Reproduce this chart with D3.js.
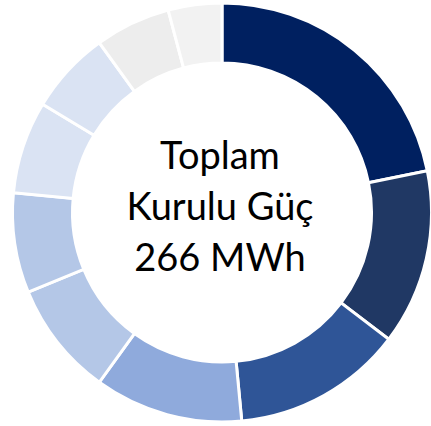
<!DOCTYPE html>
<html>
<head>
<meta charset="utf-8">
<script src="https://cdn.jsdelivr.net/npm/d3@7"></script>
<style>
  html, body { margin: 0; padding: 0; background: #ffffff; }
  svg { display: block; }
</style>
</head>
<body>
<svg id="chart" width="431" height="426"></svg>
<script>
// Data (total 266 MWh)
const categories = ["Santral 1", "Santral 2", "Santral 3", "Santral 4", "Santral 5",
                    "Santral 6", "Santral 7", "Santral 8", "Santral 9", "Santral 10"];
const values = [58, 36, 35, 30.5, 23.5, 20.5, 19, 17, 15.5, 11];
const colors = ["#002060", "#203864", "#2F5597", "#8FAADC", "#B4C7E7",
                "#B4C7E7", "#DAE3F3", "#DAE3F3", "#EDEDED", "#F2F2F2"];
const centerLines = ["Toplam", "Kurulu Güç", "266 MWh"];

const width = 431, height = 426;
const cx = 222, cy = 212.5;
const outerR = 209.5, innerR = 149.5;

const svg = d3.select("#chart");
const g = svg.append("g").attr("transform", `translate(${cx},${cy})`);

const pie = d3.pie().sort(null).value(d => d.value);
const arc = d3.arc().innerRadius(innerR).outerRadius(outerR);

const data = categories.map((c, i) => ({ name: c, value: values[i], color: colors[i] }));

g.selectAll("path.slice")
  .data(pie(data))
  .join("path")
  .attr("class", "slice")
  .attr("d", arc)
  .attr("fill", d => d.data.color)
  .attr("stroke", "#ffffff")
  .attr("stroke-width", 3)
  .attr("stroke-linejoin", "miter");

const fontFamily = "Lato, 'Open Sans', sans-serif";
const baselines = [169.3, 220, 270.5];
const text = svg.append("g");
centerLines.forEach((t, i) => {
  text.append("text")
    .attr("x", cx - 2)
    .attr("y", baselines[i])
    .attr("text-anchor", "middle")
    .attr("font-family", fontFamily)
    .attr("font-size", 38)
    .attr("fill", "#000000")
    .text(t);
});
</script>
</body>
</html>
